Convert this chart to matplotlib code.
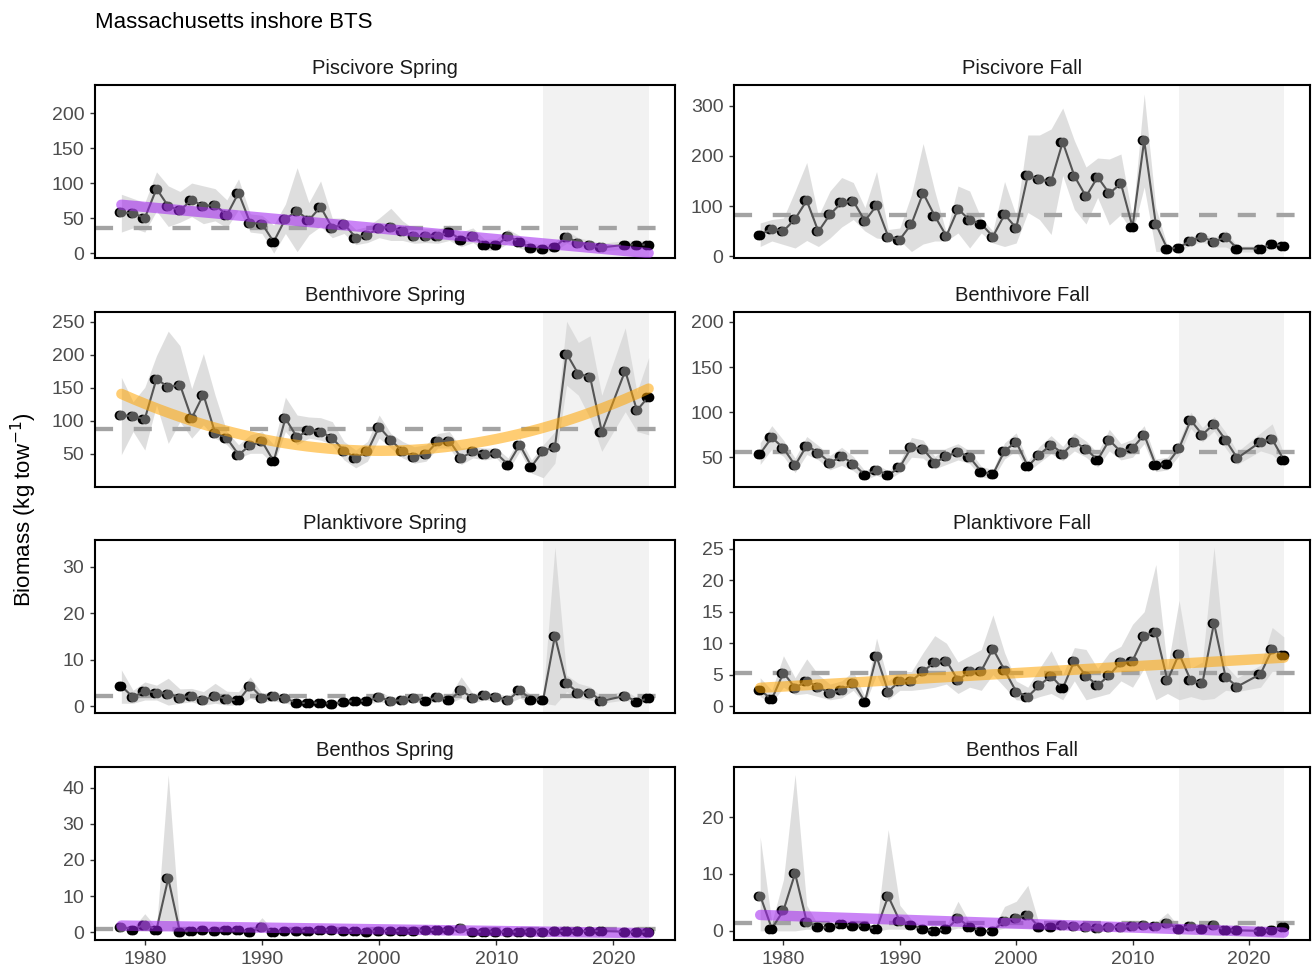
import numpy as np
import matplotlib.pyplot as plt

plt.rcParams['font.family'] = ['Liberation Sans', 'DejaVu Sans']

years = list(range(1978, 2020)) + [2021, 2022, 2023]

# Piscivore Spring
ps_val = [58, 57, 50, 92, 67, 61, 76, 67, 69, 54, 86, 43, 42, 16, 49, 60, 47, 66, 36, 42,
          22, 26, 36, 37, 31, 24, 25, 24, 30, 19, 25, 11, 11, 24, 16, 7, 6, 9, 23, 15, 11, 8, 12, 12, 12]
ps_hi = [84, 78, 72, 116, 96, 88, 100, 96, 92, 76, 106, 56, 54, 40, 70, 122, 72, 103, 50, 50,
         34, 38, 50, 64, 46, 34, 35, 34, 40, 30, 36, 20, 20, 34, 25, 14, 12, 16, 32, 22, 18, 14, 18, 18, 18]
ps_lo = [30, 36, 30, 60, 38, 44, 52, 42, 46, 36, 62, 30, 28, 0, 28, 2, 26, 38, 22, 28,
         12, 15, 22, 18, 18, 14, 15, 14, 18, 9, 15, 4, 4, 14, 7, 2, 1, 3, 14, 8, 5, 3, 6, 6, 6]
ps_mean = 36
ps_trend = ([1978, 2023], [69, 0])
ps_black = [1991, 2006, 2007, 2009, 2010, 2012, 2013, 2014, 2015, 2021, 2022, 2023]

# Piscivore Fall
pf_val = [43, 54, 50, 74, 111, 49, 83, 107, 110, 70, 101, 39, 33, 64, 126, 80, 40, 94, 72, 64,
          39, 83, 56, 161, 153, 149, 228, 160, 119, 158, 125, 145, 58, 231, 64, 14, 17, 31, 38, 28, 38, 15, 15, 24, 20]
pf_hi = [66, 73, 76, 130, 187, 80, 130, 157, 147, 97, 169, 53, 56, 123, 225, 130, 46, 140, 130, 75,
         50, 149, 81, 242, 242, 254, 296, 231, 178, 196, 194, 204, 76, 324, 97, 20, 22, 40, 45, 36, 51, 20, 20, 32, 26]
pf_lo = [19, 30, 23, 16, 31, 19, 36, 58, 73, 50, 36, 33, 31, 9, 24, 30, 30, 46, 16, 46,
         26, 19, 26, 87, 73, 43, 161, 93, 64, 117, 62, 83, 46, 138, 9, 8, 10, 22, 28, 18, 18, 8, 8, 15, 12]
pf_mean = 81
pf_black = [1978, 1997, 2010, 2013, 2014, 2019, 2021, 2022, 2023]

# Benthivore Spring
bs_val = [109, 107, 103, 164, 151, 155, 104, 140, 82, 74, 49, 63, 69, 39, 104, 75, 87, 84, 74, 55,
          44, 54, 91, 71, 54, 46, 50, 69, 70, 44, 54, 50, 51, 34, 64, 31, 55, 60, 202, 171, 167, 84, 176, 116, 137]
bs_hi = [166, 129, 151, 199, 236, 214, 149, 202, 139, 84, 64, 79, 84, 64, 136, 109, 106, 105, 99, 69,
         56, 69, 109, 81, 69, 61, 64, 81, 84, 59, 61, 59, 59, 44, 74, 41, 64, 84, 251, 219, 229, 139, 241, 144, 196]
bs_lo = [49, 84, 56, 124, 66, 99, 74, 94, 74, 64, 44, 51, 51, 34, 84, 64, 74, 71, 64, 41,
         29, 39, 74, 59, 44, 36, 39, 59, 59, 34, 44, 41, 44, 24, 54, 21, 14, 36, 154, 139, 104, 54, 114, 84, 79]
bs_mean = 87.5
bs_trend = ([1978, 2001, 2023], [141, 55, 149])
bs_black = [1991, 2011, 2013, 2023]

# Benthivore Fall
bf_val = [54, 72, 60, 41, 63, 55, 44, 51, 43, 30, 36, 30, 39, 61, 59, 44, 51, 56, 50, 34,
          31, 57, 67, 40, 53, 64, 54, 67, 59, 47, 69, 56, 60, 75, 41, 43, 60, 91, 75, 87, 69, 49, 67, 70, 47]
bf_hw = [12, 13, 9, 8, 10, 8, 8, 10, 8, 5, 6, 5, 6, 11, 10, 7, 9, 9, 7, 6,
         5, 9, 10, 6, 9, 10, 8, 10, 9, 8, 12, 9, 10, 10, 7, 7, 8, 9, 8, 8, 9, 7, 10, 17, 7]
bf_mean = 56
bf_black = [1978, 1987, 1989, 1997, 1998, 2001, 2007, 2012, 2013, 2023]

# Planktivore Spring
pls_val = [4.3, 1.9, 3.3, 2.9, 2.7, 1.8, 2.2, 1.3, 2.2, 1.5, 1.2, 4.4, 1.8, 2.2, 1.7, 0.6, 0.7, 0.7, 0.5, 0.9,
           1.1, 1.1, 1.9, 1.1, 1.3, 1.7, 1.1, 2.0, 1.3, 3.4, 1.7, 2.4, 1.9, 1.3, 3.4, 1.4, 1.4, 15.1, 4.9, 2.9,
           2.9, 1.1, 2.2, 0.9, 1.7]
pls_hi = [7.8, 3.4, 5.2, 4.5, 6.0, 3.7, 3.8, 3.1, 4.9, 3.2, 3.1, 6.3, 2.7, 3.1, 2.5, 1.3, 1.3, 1.1, 1.1, 1.7,
          1.8, 1.7, 3.1, 2.0, 2.0, 2.5, 2.0, 2.9, 2.1, 6.3, 2.7, 3.1, 2.7, 2.2, 4.2, 2.4, 2.4, 34.3, 6.7, 4.9,
          4.2, 2.0, 3.4, 1.8, 2.5]
pls_lo = [0.6, 0.6, 1.3, 1.3, 0.2, 0.6, 0.9, 0.2, 0.6, 0.2, 0.2, 1.7, 0.9, 1.1, 0.6, 0.1, 0.1, 0.1, 0.1, 0.4,
          0.4, 0.4, 0.9, 0.6, 0.6, 0.9, 0.4, 1.1, 0.6, 1.7, 0.7, 1.3, 1.1, 0.6, 1.7, 0.6, 0.6, 0.2, 3.1, 1.7,
          1.3, 0.6, 1.3, 0.4, 0.9]
pls_mean = 2.2
pls_black = [1978, 1988, 1993, 1994, 1995, 1996, 1997, 1998, 1999, 2004, 2006, 2013, 2014, 2022, 2023]

# Planktivore Fall
plf_val = [2.5, 1.1, 5.3, 2.9, 4.0, 3.0, 2.1, 2.5, 3.7, 0.7, 7.9, 2.3, 4.0, 4.0, 5.5, 7.0, 7.2, 4.1, 5.5, 5.6,
           9.1, 5.7, 2.3, 1.5, 3.3, 4.8, 2.8, 7.2, 4.8, 3.3, 4.9, 7.0, 7.2, 11.1, 11.8, 4.1, 8.3, 4.1, 3.6, 13.2,
           4.6, 3.1, 5.1, 9.0, 8.1]
plf_hi = [4.5, 2.5, 8.0, 4.5, 7.5, 5.0, 3.5, 4.0, 5.5, 1.5, 10.8, 4.0, 5.5, 5.5, 8.5, 11.2, 10.0, 7.0, 8.0, 9.0,
          14.5, 8.5, 4.0, 3.0, 6.0, 8.8, 5.0, 9.3, 9.0, 6.0, 8.5, 9.5, 13.0, 15.0, 22.5, 6.0, 16.8, 6.0, 7.0, 25.3,
          6.5, 4.5, 6.5, 12.5, 11.0]
plf_lo = [1.5, 0.5, 3.0, 1.8, 2.0, 1.5, 1.0, 1.3, 2.5, 0.3, 5.0, 1.0, 2.5, 2.5, 2.7, 3.0, 3.5, 2.0, 3.0, 2.5,
          5.0, 3.0, 1.0, 0.8, 1.5, 2.0, 1.0, 4.0, 1.0, 1.5, 2.0, 4.0, 3.0, 6.0, 1.0, 2.0, 1.0, 1.5, 1.0, 1.2,
          2.5, 2.3, 3.0, 5.5, 5.5]
plf_mean = 5.3
plf_trend = ([1978, 2023], [2.9, 7.7])
plf_black = [1978, 1979, 1987, 2004, 2023]

# Benthos Spring
bens_val = [1.5, 0.7, 2.1, 0.7, 14.9, 0.0, 0.3, 0.7, 0.3, 0.5, 0.5, 0.0, 1.5, 0.0, 0.3, 0.3, 0.3, 0.6, 0.6, 0.3,
            0.3, 0.1, 0.3, 0.3, 0.3, 0.3, 0.6, 0.6, 0.6, 1.0, 0.1, 0.1, 0.1, 0.1, 0.1, 0.1, 0.1, 0.3, 0.3, 0.3,
            0.3, 0.3, 0.1, 0.1, 0.1]
bens_hi = [2.5, 1.2, 5.1, 1.2, 43.6, 0.4, 0.8, 1.2, 0.8, 1.0, 1.0, 0.4, 4.0, 0.4, 0.8, 0.8, 0.8, 1.1, 1.1, 0.8,
           0.8, 0.5, 0.8, 0.8, 0.8, 0.8, 1.1, 1.1, 1.1, 1.6, 0.5, 0.5, 0.5, 0.5, 0.5, 0.5, 0.5, 0.8, 0.8, 0.8,
           0.8, 0.8, 0.5, 0.5, 0.5]
bens_lo = [0.6, 0.2, 0.8, 0.2, 0.5, 0, 0, 0.2, 0, 0.1, 0.1, 0, 0.5, 0, 0, 0, 0, 0.2, 0.2, 0,
           0, 0, 0, 0, 0, 0, 0.2, 0.2, 0.2, 0.5, 0, 0, 0, 0, 0, 0, 0, 0, 0, 0, 0, 0, 0, 0, 0]
bens_mean = 0.8
bens_trend = ([1978, 2023], [1.8, -0.3])
bens_black = [1979, 1981] + list(range(1983, 1990)) + list(range(1991, 2007)) + list(range(2008, 2020)) + [2021, 2022, 2023]

# Benthos Fall
benf_val = [6.2, 0.4, 3.6, 10.1, 1.6, 0.6, 0.6, 1.2, 0.9, 0.9, 0.3, 6.1, 1.7, 1.0, 0.3, 0.0, 0.3, 2.2, 0.7, 0.0,
            0.0, 1.8, 2.3, 2.8, 0.6, 0.6, 1.0, 0.9, 0.6, 0.5, 0.7, 0.7, 0.9, 1.0, 0.9, 1.3, 0.3, 0.9, 0.4, 1.0,
            0.1, 0.1, 0.0, 0.1, 0.6]
benf_hi = [16.5, 1.5, 9.0, 27.5, 4.5, 1.0, 1.0, 2.0, 1.5, 1.5, 0.8, 17.8, 4.5, 2.0, 0.8, 0.3, 1.0, 5.2, 1.5, 0.3,
           0.3, 4.3, 5.2, 8.0, 1.0, 1.0, 1.5, 1.4, 1.0, 0.9, 1.2, 1.2, 1.5, 1.5, 1.5, 3.2, 0.7, 1.5, 1.0, 2.0,
           0.4, 0.4, 0.3, 0.4, 1.0]
benf_lo = [0.0, 0.0, 0.0, 0.0, 0.3, 0.2, 0.2, 0.5, 0.4, 0.4, 0.0, 0.3, 0.3, 0.3, 0.0, 0.0, 0.0, 0.5, 0.2, 0.0,
           0.0, 0.5, 0.5, 0.5, 0.2, 0.2, 0.5, 0.5, 0.3, 0.2, 0.3, 0.3, 0.4, 0.5, 0.4, 0.3, 0.0, 0.4, 0.0, 0.3,
           0.0, 0.0, 0.0, 0.0, 0.2]
benf_mean = 1.3
benf_trend = ([1978, 2023], [2.8, -0.3])
benf_black = [1979, 1983, 1984, 1985, 1986, 1987, 1988, 1991, 1992, 1993, 1994, 1996, 1997, 1998,
              2002, 2003, 2014, 2016, 2018, 2019, 2021, 2022, 2023]

bf_lo = [v - h for v, h in zip(bf_val, bf_hw)]
bf_hi = [v + h for v, h in zip(bf_val, bf_hw)]

PURPLE = "#a020f0"
ORANGE = "#ffa500"

panels = [
    ("Piscivore Spring", ps_val, ps_lo, ps_hi, ps_mean, ps_trend, PURPLE, ps_black, (-7, 240), [0, 50, 100, 150, 200]),
    ("Piscivore Fall", pf_val, pf_lo, pf_hi, pf_mean, None, None, pf_black, (-4, 342), [0, 100, 200, 300]),
    ("Benthivore Spring", bs_val, bs_lo, bs_hi, bs_mean, bs_trend, ORANGE, bs_black, (0, 265), [50, 100, 150, 200, 250]),
    ("Benthivore Fall", bf_val, bf_lo, bf_hi, bf_mean, None, None, bf_black, (17, 211), [50, 100, 150, 200]),
    ("Planktivore Spring", pls_val, pls_lo, pls_hi, pls_mean, None, None, pls_black, (-1.5, 35.8), [0, 10, 20, 30]),
    ("Planktivore Fall", plf_val, plf_lo, plf_hi, plf_mean, plf_trend, ORANGE, plf_black, (-1.1, 26.4), [0, 5, 10, 15, 20, 25]),
    ("Benthos Spring", bens_val, bens_lo, bens_hi, bens_mean, bens_trend, PURPLE, bens_black, (-2.2, 45.8), [0, 10, 20, 30, 40]),
    ("Benthos Fall", benf_val, benf_lo, benf_hi, benf_mean, benf_trend, PURPLE, benf_black, (-1.6, 28.8), [0, 10, 20]),
]

W, H = 1315, 972
fig = plt.figure(figsize=(W / 100, H / 100), dpi=100)
cols = [(95, 675), (734, 1310)]
rows = [(85, 258), (312, 487), (540, 713), (767, 940)]

yrs = np.array(years)
for i, (title, val, lo, hi, mean, trend, tcol, black, ylim, yticks) in enumerate(panels):
    r, c = divmod(i, 2)
    x0, x1 = cols[c]
    y0, y1 = rows[r]
    ax = fig.add_axes([x0 / W, 1 - y1 / H, (x1 - x0) / W, (y1 - y0) / H])
    ax.axvspan(2014, 2023, color="#f2f2f2", lw=0, zorder=0)
    ax.fill_between(yrs, lo, hi, color="#d9d9d9", alpha=0.85, lw=0, zorder=1)
    ax.axhline(mean, color="#a3a3a3", lw=3.1, ls=(0, (4.2, 4.8)), zorder=2)

    val = np.array(val)
    isblack = np.isin(yrs, black)
    ax.plot(yrs - 0.2, val, "o", color="black", ms=7, mew=0, zorder=3)
    ax.plot(yrs, val, "-", color="#555555", lw=1.5, zorder=3.5)
    ax.plot(yrs[~isblack], val[~isblack], "o", color="#555555", ms=7, mew=0, zorder=4)
    ax.plot(yrs[isblack], val[isblack], "o", color="black", ms=7, mew=0, zorder=4)

    if trend is not None:
        tx, ty = trend
        coef = np.polyfit(tx, ty, len(tx) - 1)
        xs = np.linspace(1978, 2023, 200)
        ax.plot(xs, np.polyval(coef, xs), color=tcol, lw=7.5, alpha=0.55,
                solid_capstyle="round", zorder=5)

    ax.set_xlim(1975.75, 2025.25)
    ax.set_ylim(*ylim)
    ax.set_yticks(yticks)
    ax.set_xticks([1980, 1990, 2000, 2010, 2020])
    for s in ax.spines.values():
        s.set_linewidth(1.5)
        s.set_color("black")
    ax.tick_params(length=3.6, width=1, color="#333333", labelcolor="#4d4d4d",
                   labelsize=14, pad=4)
    if r < 3:
        ax.tick_params(axis="x", bottom=False, labelbottom=False)
    ax.set_title(title, fontsize=14.5, pad=8, color="#1a1a1a")

fig.text(95 / W, 1 - 28 / H, "Massachusetts inshore BTS", fontsize=16, ha="left", va="baseline")
fig.text(24 / W, 1 - 510 / H, "Biomass (kg tow$^{-1}$)", fontsize=16, rotation=90, ha="center", va="center")

fig.savefig("out.png", dpi=100)
